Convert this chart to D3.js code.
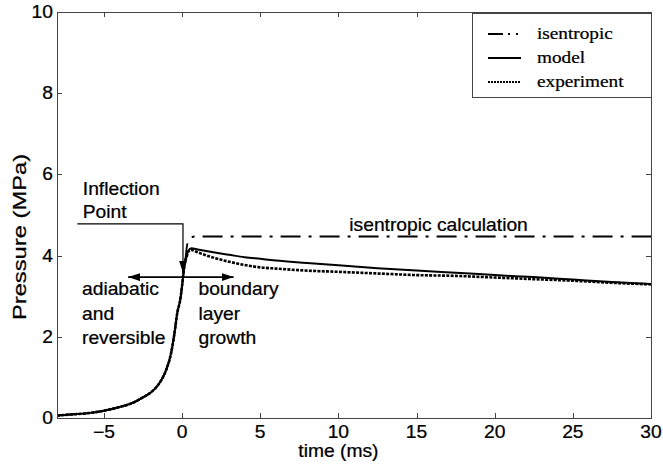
<!DOCTYPE html>
<html>
<head>
<meta charset="utf-8">
<script src="https://cdn.jsdelivr.net/npm/d3@7"></script>
<style>
  body { margin: 0; background: #fff; }
  svg { display: block; font-family: "Liberation Sans", Arial, sans-serif; }
  text { stroke: #000; stroke-width: 0.25; }
</style>
</head>
<body>
<div id="chart"></div>
<script>
// Compression stroke, shared by all three curves up to the inflection point.
var riseTime = [-8, -7, -6, -5, -4, -3, -2.5, -2, -1.6, -1.3, -1, -0.7, -0.5, -0.3, -0.1, 0, 0.1, 0.2];
var risePress = [0.06, 0.09, 0.12, 0.18, 0.27, 0.40, 0.51, 0.63, 0.78, 0.95, 1.2, 1.6, 2.05, 2.6, 2.95, 3.25, 3.6, 3.85];

var isenTime = [0.3, 0.4, 0.6, 0.8, 30];
var isenPress = [4.2, 4.38, 4.45, 4.47, 4.47];

var modelTime = [0.3, 0.4, 0.6, 1, 2, 3, 4, 5, 6, 8, 10, 12.5, 15, 17.5, 20, 22.5, 25, 27.5, 30];
var modelPress = [4.0, 4.12, 4.18, 4.15, 4.08, 4.02, 3.96, 3.92, 3.88, 3.82, 3.76, 3.69, 3.63, 3.58, 3.52, 3.47, 3.41, 3.35, 3.30];

var expTime = [0.3, 0.4, 0.6, 1, 2, 3, 4, 5, 6, 8, 10, 12.5, 15, 17.5, 20, 22.5, 25, 27.5, 30];
var expPress = [3.98, 4.1, 4.14, 4.08, 3.95, 3.85, 3.77, 3.71, 3.68, 3.63, 3.60, 3.56, 3.52, 3.50, 3.46, 3.42, 3.38, 3.33, 3.29];

var xTicks = [-5, 0, 5, 10, 15, 20, 25, 30];
var xTickLabels = ["\u22125", "0", "5", "10", "15", "20", "25", "30"];
var yTicks = [0, 2, 4, 6, 8, 10];
var yTickLabels = ["0", "2", "4", "6", "8", "10"];

var legendNames = ["isentropic", "model", "experiment"];

var width = 663;
var height = 469;
var margin = { left: 57, right: 12, top: 12, bottom: 51 };

// the scanned figure has its lettering a bit wider than normal
var fontSize = 17.5;
var stretch = 1.1;

var svg = d3.select("#chart")
  .append("svg")
    .attr("width", width)
    .attr("height", height);

var x = d3.scaleLinear().domain([-8, 30]).range([margin.left, width - margin.right]);
var y = d3.scaleLinear().domain([0, 10]).range([height - margin.bottom, margin.top]);

function zip(ts, ps) {
  return ts.map(function (t, i) { return [t, ps[i]]; });
}

function place(px, py) {
  return "translate(" + px + "," + py + ") scale(" + stretch + ",1)";
}

var rise = zip(riseTime, risePress);
var series = [
  { name: "isentropic", pts: rise.concat(zip(isenTime, isenPress)), dash: "20,8,3,8", width: 1.8 },
  { name: "experiment", pts: rise.concat(zip(expTime, expPress)), dash: "3,1.3", width: 2.6 },
  { name: "model", pts: rise.concat(zip(modelTime, modelPress)), dash: null, width: 2 }
];

var line = d3.line()
  .x(function (d) { return x(d[0]); })
  .y(function (d) { return y(d[1]); })
  .curve(d3.curveMonotoneX);

// Arrow markers
var defs = svg.append("defs");
defs.append("marker")
    .attr("id", "arrow")
    .attr("viewBox", "0 0 12 8")
    .attr("refX", 12)
    .attr("refY", 4)
    .attr("markerWidth", 12)
    .attr("markerHeight", 8)
    .attr("markerUnits", "userSpaceOnUse")
    .attr("orient", "auto-start-reverse")
  .append("path")
    .attr("d", "M0,0 L12,4 L0,8 Z")
    .attr("fill", "#000");

// Curves
svg.selectAll("path.series")
  .data(series)
  .enter()
  .append("path")
    .attr("class", "series")
    .attr("d", function (d) { return line(d.pts); })
    .attr("fill", "none")
    .attr("stroke", "#000")
    .attr("stroke-width", function (d) { return d.width; })
    .attr("stroke-dasharray", function (d) { return d.dash; });

// Axes frame with inward ticks on all sides (matlab box style)
var frame = svg.append("g").attr("stroke", "#444").attr("stroke-width", 1).attr("fill", "none");
frame.append("rect")
  .attr("x", x(-8) + 0.5)
  .attr("y", y(10) + 0.5)
  .attr("width", x(30) - x(-8))
  .attr("height", y(0) - y(10));

var tickLen = 5;
xTicks.forEach(function (t) {
  var px = Math.round(x(t)) + 0.5;
  frame.append("line").attr("x1", px).attr("x2", px).attr("y1", y(0)).attr("y2", y(0) - tickLen);
  frame.append("line").attr("x1", px).attr("x2", px).attr("y1", y(10)).attr("y2", y(10) + tickLen);
});
yTicks.forEach(function (v) {
  var py = Math.round(y(v)) + 0.5;
  frame.append("line").attr("x1", x(-8)).attr("x2", x(-8) + tickLen).attr("y1", py).attr("y2", py);
  frame.append("line").attr("x1", x(30)).attr("x2", x(30) - tickLen).attr("y1", py).attr("y2", py);
});

// Tick labels
svg.selectAll("text.xtick")
  .data(xTicks)
  .enter()
  .append("text")
    .attr("class", "xtick")
    .attr("transform", function (d) { return place(x(d), y(0) + 20); })
    .attr("text-anchor", "middle")
    .attr("font-size", fontSize)
    .text(function (d, i) { return xTickLabels[i]; });

svg.selectAll("text.ytick")
  .data(yTicks)
  .enter()
  .append("text")
    .attr("class", "ytick")
    .attr("transform", function (d) { return place(x(-8) - 4, y(d) + 6); })
    .attr("text-anchor", "end")
    .attr("font-size", fontSize)
    .text(function (d, i) { return yTickLabels[i]; });

svg.append("text")
  .attr("transform", place(x(10), 457))
  .attr("text-anchor", "middle")
  .attr("font-size", fontSize)
  .text("time (ms)");

svg.append("text")
  .attr("transform", "translate(26,237) rotate(-90) scale(1.25,1)")
  .attr("text-anchor", "middle")
  .attr("font-size", 19)
  .text("Pressure (MPa)");

// Annotations
var annText = [
  { t: -6.35, p: 5.5, s: "Inflection" },
  { t: -6.35, p: 4.92, s: "Point" },
  { t: -6.4, p: 3.02, s: "adiabatic" },
  { t: -6.4, p: 2.41, s: "and" },
  { t: -6.4, p: 1.82, s: "reversible" },
  { t: 1.05, p: 3.02, s: "boundary" },
  { t: 1.05, p: 2.41, s: "layer" },
  { t: 1.05, p: 1.82, s: "growth" },
  { t: 10.7, p: 4.6, s: "isentropic calculation" }
];
svg.selectAll("text.ann")
  .data(annText)
  .enter()
  .append("text")
    .attr("class", "ann")
    .attr("transform", function (d) { return place(x(d.t), y(d.p)); })
    .attr("font-size", fontSize)
    .text(function (d) { return d.s; });

svg.append("path")
  .attr("d", "M" + x(-6.7) + "," + y(4.78) + " H" + x(0.06) + " V" + y(3.58))
  .attr("fill", "none")
  .attr("stroke", "#000")
  .attr("stroke-width", 1.2)
  .attr("marker-end", "url(#arrow)");

svg.append("line")
  .attr("x1", x(-3.45)).attr("x2", x(3.3))
  .attr("y1", y(3.47)).attr("y2", y(3.47))
  .attr("stroke", "#000")
  .attr("stroke-width", 1.8)
  .attr("marker-start", "url(#arrow)")
  .attr("marker-end", "url(#arrow)");

// Legend
var legend = svg.append("g").attr("transform", "translate(472,13)");
legend.append("rect")
  .attr("x", 0.5).attr("y", 0.5)
  .attr("width", x(30) - 472).attr("height", 84)
  .attr("fill", "#fff")
  .attr("stroke", "#444");

var legendDash = { isentropic: "15,5,2,6,2,6", model: null, experiment: "2,1" };
var legendRows = legend.selectAll("g.row")
  .data(legendNames)
  .enter()
  .append("g")
    .attr("class", "row")
    .attr("transform", function (d, i) { return "translate(0," + (21 + i * 24) + ")"; });

legendRows.append("line")
  .attr("x1", 16).attr("x2", 49)
  .attr("y1", 0).attr("y2", 0)
  .attr("stroke", "#000")
  .attr("stroke-width", 2)
  .attr("stroke-dasharray", function (d) { return legendDash[d]; });

legendRows.append("text")
  .attr("transform", "translate(65,5) scale(1.1,1)")
  .attr("font-family", "'Liberation Serif', 'Times New Roman', serif")
  .attr("font-size", 17.5)
  .text(function (d) { return d; });
</script>
</body>
</html>
